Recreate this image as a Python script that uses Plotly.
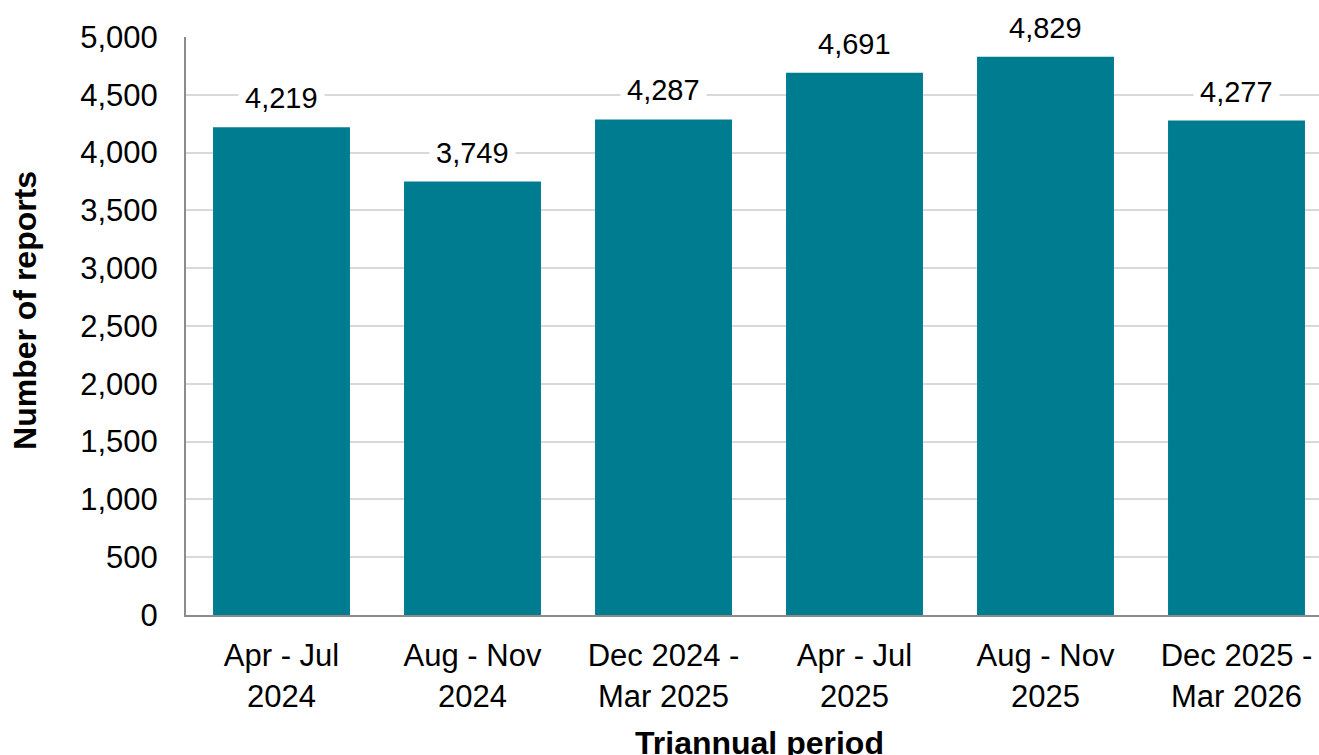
import plotly.graph_objects as go

categories = ["Apr - Jul<br>2024", "Aug - Nov<br>2024", "Dec 2024 -<br>Mar 2025",
              "Apr - Jul<br>2025", "Aug - Nov<br>2025", "Dec 2025 -<br>Mar 2026"]
reports = [4219, 3749, 4287, 4691, 4829, 4277]
ytick_vals = [0, 500, 1000, 1500, 2000, 2500, 3000, 3500, 4000, 4500, 5000]
ytick_text = ["0", "500", "1,000", "1,500", "2,000", "2,500", "3,000", "3,500", "4,000", "4,500", "5,000"]
x_title = "Triannual period"
y_title = "Number of reports"

FONT = "Liberation Sans, Arial, sans-serif"
BAR = "#007C91"

xs = list(range(len(categories)))
fig = go.Figure()
fig.add_trace(go.Bar(x=xs, y=reports, marker=dict(color=BAR, line=dict(width=0)),
                     width=0.717, hoverinfo="skip"))

for x, v in zip(xs, reports):
    fig.add_annotation(x=x, y=v, text=f"{v:,}", showarrow=False, yanchor="bottom",
                       yshift=6, bgcolor="white", borderpad=6,
                       font=dict(family=FONT, size=29, color="black"))

# axis titles as annotations (placed relative to the plot area)
fig.add_annotation(xref="x", yref="paper", x=2.5, y=-0.222, text=f"<b>{x_title}</b>",
                   showarrow=False, yanchor="middle",
                   font=dict(family=FONT, size=32, color="black"))
fig.add_annotation(xref="paper", yref="paper", x=-0.1421, y=0.526, text=f"<b>{y_title}</b>",
                   showarrow=False, textangle=-90, xanchor="center", yanchor="middle",
                   font=dict(family=FONT, size=32, color="black"))

fig.update_layout(
    width=1319, height=755,
    margin=dict(l=186, r=0, t=37, b=140),
    paper_bgcolor="white", plot_bgcolor="white",
    showlegend=False,
    font=dict(family=FONT, color="black"),
    xaxis=dict(
        range=[-0.5, 5.5 - 13 / 191],
        tickmode="array", tickvals=xs, ticktext=categories,
        tickfont=dict(family=FONT, size=31, color="black"),
        showgrid=False, zeroline=False,
        showline=True, linecolor="#8c8c8c", linewidth=2,
        ticks="", ticklabelstandoff=12, automargin=False,
    ),
    yaxis=dict(
        range=[0, 5000],
        tickmode="array", tickvals=ytick_vals, ticktext=ytick_text,
        tickfont=dict(family=FONT, size=31, color="black"),
        showgrid=True, gridcolor="#d9d9d9", gridwidth=2,
        zeroline=False,
        showline=True, linecolor="#8c8c8c", linewidth=2,
        ticks="", ticklabelstandoff=20, automargin=False,
    ),
)

fig.write_html("out.html")
